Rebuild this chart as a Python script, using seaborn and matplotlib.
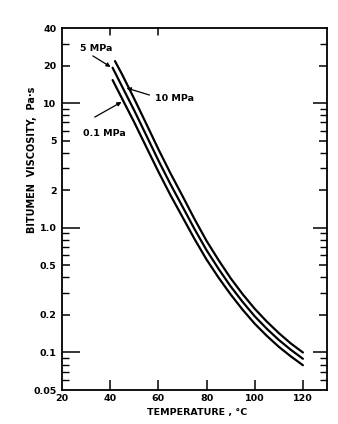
import numpy as np
import pandas as pd
import matplotlib
matplotlib.use("Agg")
import matplotlib.pyplot as plt
import matplotlib.ticker as mticker
import seaborn as sns

# Bitumen viscosity vs temperature at three pressures
temp_10mpa = [42, 45, 50, 55, 60, 65, 70, 75, 80, 85, 90, 95, 100, 105, 110, 115, 120]
visc_10mpa = [21.7, 16.9, 10.8, 6.81, 4.27, 2.74, 1.80, 1.175, 0.785, 0.550, 0.394,
              0.293, 0.224, 0.177, 0.143, 0.118, 0.100]

temp_5mpa = [41, 45, 50, 55, 60, 65, 70, 75, 80, 85, 90, 95, 100, 105, 110, 115, 120]
visc_5mpa = [19.2, 13.5, 8.71, 5.50, 3.47, 2.24, 1.48, 0.977, 0.661, 0.468, 0.339,
             0.254, 0.195, 0.155, 0.126, 0.105, 0.089]

temp_01mpa = [41, 45, 50, 55, 60, 65, 70, 75, 80, 85, 90, 95, 100, 105, 110, 115, 120]
visc_01mpa = [15.3, 10.8, 7.0, 4.44, 2.82, 1.83, 1.22, 0.813, 0.556, 0.398, 0.292,
              0.220, 0.170, 0.136, 0.111, 0.093, 0.079]

pressures = ["10 MPa", "5 MPa", "0.1 MPa"]

x_ticks = [20, 40, 60, 80, 100, 120]
y_major = [0.05, 0.1, 0.2, 0.5, 1.0, 2, 5, 10, 20, 40]
y_major_labels = ["0.05", "0.1", "0.2", "0.5", "1.0", "2", "5", "10", "20", "40"]
y_decades = [0.1, 1.0, 10]
y_minor = [0.06, 0.07, 0.08, 0.09, 0.3, 0.4, 0.6, 0.7, 0.8, 0.9,
           3, 4, 6, 7, 8, 9, 30]

df = pd.concat([
    pd.DataFrame({"T": temp_10mpa, "mu": visc_10mpa, "p": pressures[0]}),
    pd.DataFrame({"T": temp_5mpa, "mu": visc_5mpa, "p": pressures[1]}),
    pd.DataFrame({"T": temp_01mpa, "mu": visc_01mpa, "p": pressures[2]}),
], ignore_index=True)

sns.set_style("ticks")
plt.rcParams["font.family"] = ["DejaVu Sans"]
plt.rcParams["font.weight"] = "bold"
for key in ("text.color", "axes.labelcolor", "xtick.color", "ytick.color",
            "axes.edgecolor"):
    plt.rcParams[key] = "black"

fig = plt.figure(figsize=(3.38, 4.24), dpi=100)
ax = fig.add_axes([62 / 338, 1 - 390 / 424, 265 / 338, 362 / 424])

sns.lineplot(data=df, x="T", y="mu", hue="p", palette=["black"] * 3,
             linewidth=1.6, legend=False, ax=ax, sort=True, estimator=None)

ax.set_yscale("log")
ax.set_xlim(20, 130)
ax.set_ylim(0.05, 40)

for sp in ax.spines.values():
    sp.set_linewidth(1.3)
    sp.set_color("black")

fs = 6.8
# bottom axis: inward ticks, labels at 20..120
ax.set_xticks(x_ticks)
ax.set_xticklabels([str(v) for v in x_ticks], fontsize=fs, fontweight="bold")
ax.tick_params(axis="x", direction="in", length=7, width=1.1, pad=3,
               top=False, bottom=True)
ax.get_xaxis().get_major_ticks()[0].tick1line.set_visible(False)

# short top tick marks at 40 and 60
for xv in [40, 60]:
    ax.plot([xv, xv], [40, 40 / 10 ** (7 / 124.5)], color="black", lw=1.1,
            clip_on=False)

ax.yaxis.set_major_locator(mticker.FixedLocator(y_major))
ax.yaxis.set_major_formatter(mticker.FixedFormatter(y_major_labels))
ax.yaxis.set_minor_locator(mticker.FixedLocator(y_minor))
ax.yaxis.set_minor_formatter(mticker.NullFormatter())
ax.tick_params(axis="y", which="major", direction="in", length=6, width=1.1,
               left=True, right=True, labelsize=fs, pad=4)
ax.tick_params(axis="y", which="minor", direction="in", length=5, width=1.0,
               left=True, right=True)
for lab in ax.get_yticklabels():
    lab.set_fontweight("bold")
for t, v in zip(ax.yaxis.get_major_ticks(), y_major):
    if v in y_decades:
        t.tick1line.set_markersize(13)
        t.tick2line.set_markersize(10)
    if v in (0.05, 40):
        t.tick1line.set_visible(False)
        t.tick2line.set_visible(False)

ax.set_xlabel("")
ax.set_ylabel("")
fig.text(197 / 338, 1 - 412 / 424, "TEMPERATURE , °C", ha="center", va="center",
         fontsize=6.8, fontweight="bold")
fig.text(32 / 338, 1 - 160 / 424, "BITUMEN  VISCOSITY,  Pa·s", ha="center",
         va="center", rotation=90, fontsize=7.0, fontweight="bold")

# curve labels with pointer arrows
arrow = dict(arrowstyle="-|>", color="black", lw=0.9, mutation_scale=6,
             shrinkA=0, shrinkB=0)
ax.text(27.4, 27.2, "5 MPa", ha="left", va="center", fontsize=fs,
        fontweight="bold")
ax.annotate("", xy=(40.2, 19.5), xytext=(32.8, 23.9), arrowprops=arrow)

ax.text(58.4, 10.8, "10 MPa", ha="left", va="center", fontsize=fs,
        fontweight="bold")
ax.annotate("", xy=(46.8, 13.2), xytext=(56.3, 11.6), arrowprops=arrow)

ax.text(28.7, 5.74, "0.1 MPa", ha="left", va="center", fontsize=fs,
        fontweight="bold")
ax.annotate("", xy=(44.7, 10.2), xytext=(33.6, 7.72), arrowprops=arrow)

fig.savefig("out.png", dpi=100, facecolor="white")
